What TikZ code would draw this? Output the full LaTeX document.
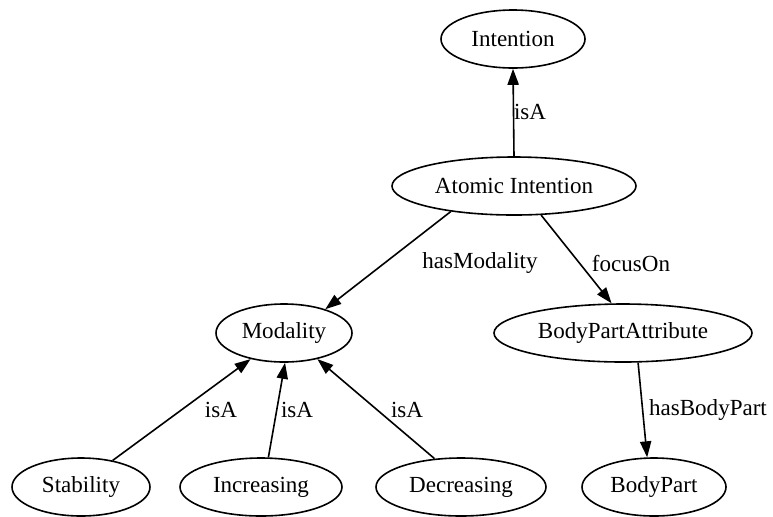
\documentclass[tikz,border=0pt]{standalone}
\usepackage{fontspec}
\setmainfont{Liberation Serif}
\usetikzlibrary{shapes.geometric,arrows.meta}
\tikzset{
  ell/.style={ellipse, draw, line width=1pt, inner sep=0pt, minimum height=36.25pt, font=\fontsize{14.4pt}{16pt}\selectfont},
  lbl/.style={inner sep=0pt, font=\fontsize{14.4pt}{16pt}\selectfont},
  edge/.style={line width=1pt, -{Triangle[length=10pt,width=7pt]}}
}
\begin{document}
\begin{tikzpicture}[x=0.625pt,y=-0.625pt]
\useasboundingbox (0,0) rectangle (773,516);
\node[ell, minimum width=144*0.625pt] (Intention) at (513,39) {Intention};
\node[ell, minimum width=244*0.625pt] (Atomic) at (514,186) {Atomic Intention};
\node[ell, minimum width=136*0.625pt] (Modality) at (284,333) {Modality};
\node[ell, minimum width=258*0.625pt] (BPA) at (623,333) {BodyPartAttribute};
\node[ell, minimum width=138*0.625pt] (Stability) at (81,487) {Stability};
\node[ell, minimum width=162*0.625pt] (Increasing) at (261,487) {Increasing};
\node[ell, minimum width=170*0.625pt] (Decreasing) at (461,487) {Decreasing};
\node[ell, minimum width=144*0.625pt] (BodyPart) at (654,487) {BodyPart};

\draw[edge] (Atomic.north) -- (Intention.south);
\draw[edge] (Atomic.202) -- (Modality.30);
\draw[edge] (Atomic.313) -- (BPA.111);
\draw[edge] (BPA.297) -- (BodyPart.103);
\draw[edge] (Stability.40) -- (Modality.218);
\draw[edge] (Increasing.76) -- (Modality.272);
\draw[edge] (Decreasing.133) -- (Modality.322);

\node[lbl] (l1) at (530,112) {isA};
\node[lbl] (l2) at (480,263) {hasModality};
\node[lbl] (l3) at (631,263) {focusOn};
\node[lbl] (l4) at (221,410) {isA};
\node[lbl] (l5) at (297,410) {isA};
\node[lbl] (l6) at (407,410) {isA};
\node[lbl] (l7) at (708,410) {hasBodyPart};
\end{tikzpicture}
\end{document}
